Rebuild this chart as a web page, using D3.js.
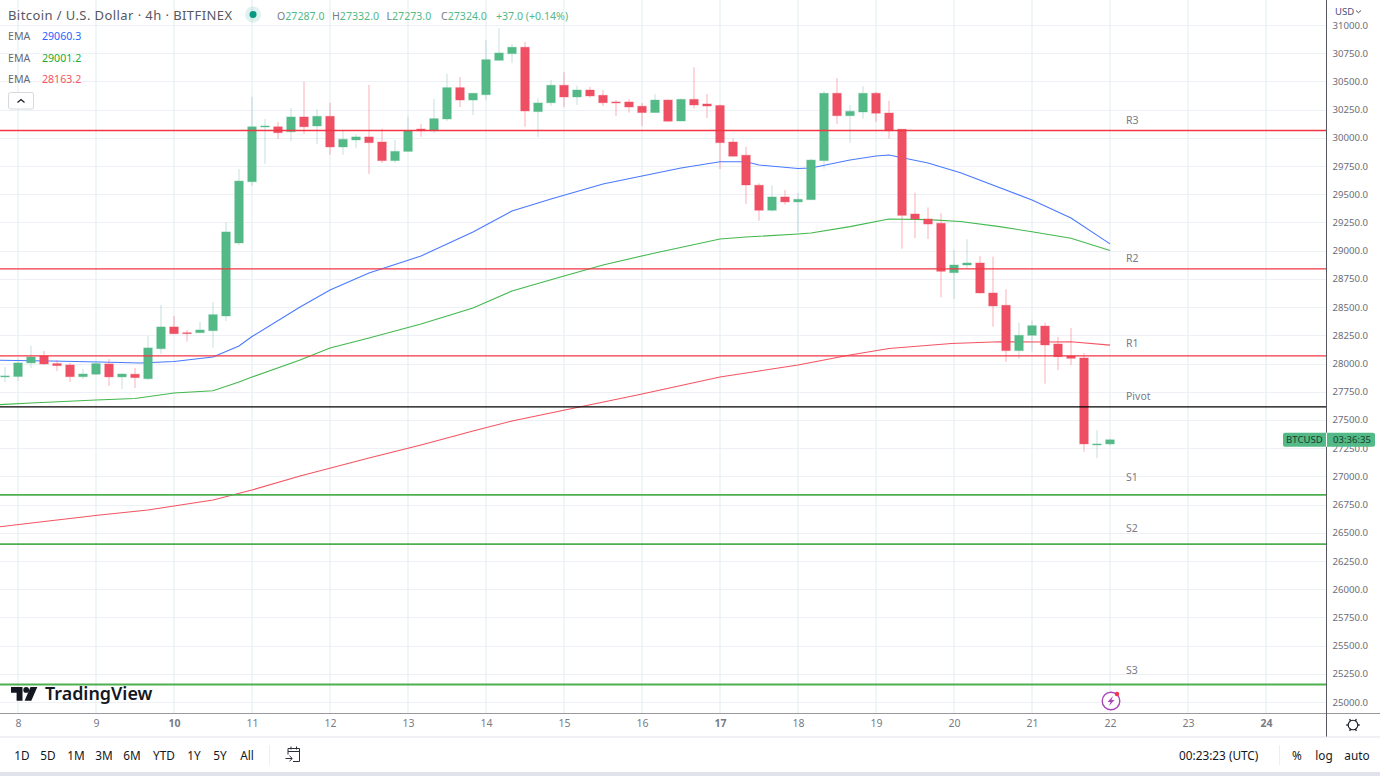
<!DOCTYPE html>
<html>
<head>
<meta charset="utf-8">
<script src="https://cdn.jsdelivr.net/npm/d3@7"></script>
<style>
  html, body { margin: 0; padding: 0; background: #fff; overflow: hidden; }
  svg { display: block; }
  text { font-family: "Noto Sans", sans-serif; }
</style>
</head>
<body>
<div id="chart"></div>
<script>
// Candles, 4h bars. Bar 0 is day 8 00:00, the first one visible is bar -1.
const FIRST_BAR = -1;
const opens = [27881,27885,28005,28067,27999,27987,27883,27905,27996,27881,27905,27865,28131,28324,28273,28273,28291,28421,29068,29611,30096,30098,30054,30185,30105,30191,29919,29981,30008,29963,29798,29880,30078,30063,30167,30445,30335,30382,30687,30746,30803,30232,30311,30466,30362,30424,30377,30318,30318,30280,30224,30335,30149,30341,30300,30287,29963,29846,29580,29358,29476,29432,29452,29798,30395,30196,30229,30395,30220,30076,29325,29281,29243,28805,28873,28891,28625,28516,28114,28250,28332,28173,28067,28049,27282,27287];
const highs = [27969,28049,28155,28111,28032,28005,27952,28023,28040,27916,27961,28244,28519,28421,28298,28368,28545,29254,29724,30364,30167,30140,30264,30497,30256,30311,30063,30034,30468,30081,29981,30187,30122,30344,30568,30539,30397,30867,30971,30832,30850,30350,30513,30581,30462,30453,30424,30335,30344,30309,30389,30341,30347,30625,30389,30295,29993,29921,29597,29580,29538,29511,29815,30413,30530,30291,30459,30406,30329,30076,29514,29383,29332,29006,29101,28953,28947,28658,28362,28380,28362,28235,28315,28091,27411,27332];
const lows = [27837,27845,27961,27987,27934,27837,27863,27899,27801,27774,27783,27854,28084,28262,28193,28270,28140,28377,29050,29573,29768,29990,29972,30034,29945,29850,29850,29910,29680,29777,29780,29878,30010,30043,30149,30273,30202,30335,30687,30665,30098,30008,30282,30273,30291,30356,30282,30194,30224,30105,30224,30145,30149,30262,30176,29724,29835,29414,29266,29345,29408,29168,29452,29727,30123,29957,30170,30140,29993,29018,29112,29103,28587,28572,28838,28619,28326,28014,28040,28108,27821,27942,27987,27218,27160,27273];
const closes = [27890,28005,28058,27996,27981,27883,27907,27999,27881,27907,27875,28138,28324,28264,28264,28297,28433,29166,29617,30098,30105,30045,30185,30098,30191,29919,29987,30008,29957,29798,29880,30063,30063,30170,30445,30335,30395,30693,30752,30803,30238,30309,30466,30362,30424,30371,30311,30311,30273,30224,30335,30147,30341,30291,30282,29957,29837,29582,29358,29476,29432,29455,29803,30395,30196,30235,30395,30218,30063,29313,29281,29236,28817,28873,28891,28625,28510,28114,28250,28335,28164,28060,28046,27287,27287,27324];

// EMAs at these bars
const blueBars = [-1.5,2.5,6.3,9.4,12,15,17,18,21.7,24,27,31,35,38,41,45,48,51,54,56,57,60,61,64,66,67,70,72.5,78,81,84];
const blueEma = [28029,28022,28013,28005,28018,28058,28155,28239,28501,28652,28802,28953,29166,29352,29458,29591,29662,29733,29788,29788,29759,29728,29733,29803,29839,29848,29777,29691,29449,29290,29060.3];
const greenBars = [-1.5,1,6,9,12,15,17,18,21.7,24,27,31,35,38,42,45,49,54,56,60,61,64,67,70,72.5,75.5,78,81,84];
const greenEma = [27635,27650,27677,27690,27739,27759,27836,27880,28031,28138,28226,28350,28492,28643,28776,28873,28980,29104,29121,29148,29157,29213,29281,29275,29259,29213,29168,29110,29001.2];
const redBars = [-1.5,2.5,6.3,10,15,18,21.7,27,31,35,38,43,48,54,60,64,67,71.8,75.5,79,81,84];
const redEma = [26551,26607,26657,26702,26790,26879,27003,27163,27278,27402,27491,27610,27730,27880,27987,28075,28133,28177,28193,28190,28193,28163.2];

// Pivot levels
const levelNames = ["R3","R2","R1","Pivot","S1","S2","S3"];
const levelPrices = [30065,28838,28067,27615,26835,26400,25155];
const levelColors = ["#f23645","#f23645","#f23645","#000000","#4caf50","#4caf50","#4caf50"];
const levelWidths = [1.6,1.2,1.2,1.2,1.8,1.8,2];
const levelLabelGaps = [10,11,13,11,18,16,15];

// Axes
const priceTicks = d3.range(25000, 31001, 250);
const dayLabels = [8,9,10,11,12,13,14,15,16,17,18,19,20,21,22,23,24];
const boldDays = [10,17,24];
const rangeButtons = ["1D","5D","1M","3M","6M","YTD","1Y","5Y","All"];
const rangeCenters = [22,48,76,104,132,164,194,220,247];

const ohlcLabels = ["O","H","L","C"];
const ohlcValues = ["27287.0","27332.0","27273.0","27324.0"];
const ohlcLeft = [277,332,386.5,441];
const emaLegend = ["29060.3","29001.2","28163.2"];
const EMA_COLORS = ["#2962ff","#22ab2f","#f23645"];
const LEGEND_COLORS = ["#2962ff","#22ab2f","#f7525f"];
const UP = "#53b987", DOWN = "#ef4f63";
const PANE = { right: 1326.5, bottom: 713.5 };
const BODY_WIDTH = 8.6;

const svg = d3.select("#chart").append("svg").attr("width", 1380).attr("height", 776);

const x = d3.scaleLinear().domain([0, 84]).range([18, 1110]);
const y = d3.scaleLinear().domain([25000, 31000]).range([702, 25]);
const dayBar = d => (d - 8) * 6;

svg.append("clipPath").attr("id", "pane").append("rect")
  .attr("width", PANE.right).attr("height", PANE.bottom);

// grid
const grid = svg.append("g").attr("clip-path", "url(#pane)");
grid.selectAll(".h").data(priceTicks).join("line")
  .attr("x1", 0).attr("x2", PANE.right)
  .attr("y1", d => Math.round(y(d)) + 0.5).attr("y2", d => Math.round(y(d)) + 0.5)
  .attr("stroke", "#edf1f5").attr("stroke-width", 1.2);
grid.selectAll(".v").data(dayLabels).join("line")
  .attr("x1", d => x(dayBar(d))).attr("x2", d => x(dayBar(d)))
  .attr("y1", 0).attr("y2", PANE.bottom)
  .attr("stroke", "#e6eef3").attr("stroke-width", 1.2);

// EMA lines go under the candles
const plot = svg.append("g").attr("clip-path", "url(#pane)");
[[blueBars, blueEma], [greenBars, greenEma], [redBars, redEma]].forEach(([bars, vals], k) => {
  const line = d3.line().x((d, i) => x(bars[i])).y(d => y(d));
  plot.append("path").datum(vals)
    .attr("d", line)
    .attr("fill", "none")
    .attr("stroke", EMA_COLORS[k])
    .attr("stroke-opacity", 0.85)
    .attr("stroke-width", 1.1);
});

// candles
const candles = plot.selectAll(".candle").data(opens).join("g");
const isUp = i => closes[i] >= opens[i];
candles.append("line")
  .attr("x1", (d, i) => x(i + FIRST_BAR)).attr("x2", (d, i) => x(i + FIRST_BAR))
  .attr("y1", (d, i) => y(highs[i])).attr("y2", (d, i) => y(lows[i]))
  .attr("stroke", (d, i) => isUp(i) ? "#7fb8b8" : DOWN)
  .attr("stroke-opacity", 0.45)
  .attr("stroke-width", 1);
candles.append("rect")
  .attr("x", (d, i) => x(i + FIRST_BAR) - BODY_WIDTH / 2)
  .attr("width", BODY_WIDTH)
  .attr("y", (d, i) => y(Math.max(opens[i], closes[i])))
  .attr("height", (d, i) => Math.max(1, Math.abs(y(opens[i]) - y(closes[i]))))
  .attr("fill", (d, i) => isUp(i) ? UP : DOWN)
  .attr("stroke", (d, i) => isUp(i) ? UP : DOWN)
  .attr("stroke-opacity", 0.35)
  .attr("stroke-width", 1);

// pivot levels sit on top of everything
const levels = svg.append("g");
levels.selectAll("line").data(levelPrices).join("line")
  .attr("x1", 0).attr("x2", PANE.right)
  .attr("y1", d => y(d)).attr("y2", d => y(d))
  .attr("stroke", (d, i) => levelColors[i])
  .attr("stroke-width", (d, i) => levelWidths[i]);
levels.selectAll("text").data(levelNames).join("text")
  .attr("x", 1126)
  .attr("y", (d, i) => y(levelPrices[i]) - levelLabelGaps[i] + 4)
  .attr("font-size", 10.5)
  .attr("fill", "#787b86")
  .text(d => d);

// price axis
const priceAxis = svg.append("g")
  .attr("transform", `translate(${PANE.right},0)`)
  .call(d3.axisRight(y).tickValues(priceTicks).tickFormat(d3.format(".1f")).tickSize(0).tickPadding(6));
priceAxis.select(".domain").remove();
priceAxis.selectAll("text")
  .attr("font-family", "Noto Sans").attr("font-size", 9.6).attr("fill", "#6a6d78");

// time axis
const timeAxis = svg.append("g")
  .attr("transform", `translate(0,${PANE.bottom})`)
  .call(d3.axisBottom(x).tickValues(dayLabels.map(dayBar)).tickFormat(b => 8 + b / 6).tickSize(0).tickPadding(6));
timeAxis.select(".domain").remove();
timeAxis.selectAll("text")
  .attr("font-family", "Noto Sans").attr("font-size", 10.5).attr("fill", "#787b86")
  .attr("font-weight", b => boldDays.includes(8 + b / 6) ? 700 : 400);

// pane borders
svg.append("rect").attr("x", 1327).attr("y", 0).attr("width", 53).attr("height", 20).attr("fill", "#fff");
svg.append("line").attr("x1", 0).attr("x2", 1380).attr("y1", PANE.bottom).attr("y2", PANE.bottom).attr("stroke", "#9a9a9e");
svg.append("line").attr("x1", PANE.right).attr("x2", PANE.right).attr("y1", 0).attr("y2", 737).attr("stroke", "#55585f");
svg.append("text").attr("x", 1335).attr("y", 15).attr("font-size", 9.5).attr("fill", "#4a4e7a").text("USD");
svg.append("path").attr("d", "M1356 10.5l2.5 2.2 2.5-2.2").attr("fill", "none").attr("stroke", "#4a4e59");

// last price tag
const tagY = y(closes[closes.length - 1]);
svg.append("rect").attr("x", 1283).attr("y", tagY - 7).attr("width", 92).attr("height", 14).attr("rx", 2).attr("fill", UP);
svg.append("line").attr("x1", PANE.right).attr("x2", PANE.right).attr("y1", tagY - 7).attr("y2", tagY + 7).attr("stroke", "#fff");
svg.append("text").attr("x", 1286).attr("y", tagY + 3.5).attr("font-size", 9.6).attr("fill", "#17402f").text("BTCUSD");
svg.append("text").attr("x", 1333).attr("y", tagY + 3.5).attr("font-size", 9.6).attr("fill", "#17402f").text("03:36:35");

// header
svg.append("text").attr("x", 8).attr("y", 19.5).attr("font-size", 13).attr("letter-spacing", 0.42).attr("fill", "#555862")
  .text("Bitcoin / U.S. Dollar · 4h · BITFINEX");
svg.append("circle").attr("cx", 253).attr("cy", 14.5).attr("r", 8).attr("fill", "#089981").attr("fill-opacity", 0.13);
svg.append("circle").attr("cx", 253).attr("cy", 14.5).attr("r", 3.5).attr("fill", "#089981");

ohlcLabels.forEach((k, i) => {
  const t = svg.append("text").attr("x", ohlcLeft[i]).attr("y", 19.5).attr("font-size", 10.6);
  t.append("tspan").attr("fill", "#787b86").text(k);
  t.append("tspan").attr("fill", UP).text(ohlcValues[i]);
});
svg.append("text").attr("x", 496).attr("y", 19.5).attr("font-size", 10.6).attr("fill", UP).text("+37.0 (+0.14%)");

emaLegend.forEach((v, i) => {
  const rowY = 40 + i * 21.6;
  svg.append("text").attr("x", 8).attr("y", rowY).attr("font-size", 10.6).attr("fill", "#666a75").text("EMA");
  svg.append("text").attr("x", 42).attr("y", rowY).attr("font-size", 10.6).attr("fill", LEGEND_COLORS[i]).text(v);
});
svg.append("rect").attr("x", 8.5).attr("y", 92.5).attr("width", 25).attr("height", 16.5).attr("rx", 2).attr("fill", "#fff").attr("stroke", "#d6d8de");
svg.append("path").attr("d", "M17.5 102.5l3.5-3 3.5 3").attr("fill", "none").attr("stroke", "#131722").attr("stroke-width", 1.2);

// logo
const logo = svg.append("g").attr("transform", "translate(11,687)").attr("fill", "#131722");
logo.append("path").attr("d", "M0 0H11.5V13.7H5.6V5.7H0Z");
logo.append("circle").attr("cx", 15.2).attr("cy", 2.9).attr("r", 2.9);
logo.append("path").attr("d", "M19.5 0H26.3L20.3 13.7H13.6Z");
svg.append("text").attr("x", 45).attr("y", 700).attr("font-family", "Inter").attr("font-size", 17.9).attr("font-weight", 600)
  .attr("fill", "#131722").text("TradingView");

// lightning badge
const badge = svg.append("g").attr("transform", "translate(1111,701)");
badge.append("circle").attr("r", 8.8).attr("fill", "#fff").attr("stroke", "#ab47bc").attr("stroke-width", 1.4);
badge.append("path").attr("d", "M2 -5L-3.5 1H-0.5L-2 5L3.5 -1H0.5Z").attr("fill", "#ab47bc");
badge.append("circle").attr("cx", 6).attr("cy", -7).attr("r", 2.2).attr("fill", "#f23645");

// gear
const gear = svg.append("g").attr("transform", "translate(1353,725)").attr("fill", "none").attr("stroke", "#131722");
gear.append("circle").attr("r", 4.8).attr("stroke-width", 1.1);
d3.range(0, 360, 60).forEach(a => {
  const r = a * Math.PI / 180;
  gear.append("line").attr("x1", 4.8 * Math.cos(r)).attr("y1", 4.8 * Math.sin(r))
    .attr("x2", 6.8 * Math.cos(r)).attr("y2", 6.8 * Math.sin(r)).attr("stroke-width", 1.3);
});

// bottom toolbar
svg.append("line").attr("x1", 0).attr("x2", 1380).attr("y1", 737).attr("y2", 737).attr("stroke", "#e0e3eb");
svg.append("rect").attr("x", 0).attr("y", 772).attr("width", 1380).attr("height", 4).attr("fill", "#e0e3eb");
svg.selectAll(".range").data(rangeButtons).join("text")
  .attr("x", (d, i) => rangeCenters[i]).attr("y", 759.5)
  .attr("text-anchor", "middle").attr("font-size", 11.8).attr("fill", "#131722")
  .text(d => d);
[269.5, 1279.5].forEach(px => {
  svg.append("line").attr("x1", px).attr("x2", px).attr("y1", 745).attr("y2", 765).attr("stroke", "#eceef2");
});
svg.append("path")
  .attr("d", "M288 754.5V748.5H299.5V761.5H293M288 751.5H299.5M291 746.5V749.5M296.5 746.5V749.5M285.5 758.5H292M289.5 755.8L292.3 758.5L289.5 761.2")
  .attr("fill", "none").attr("stroke", "#2a2e39").attr("stroke-width", 1);
svg.append("text").attr("x", 1179).attr("y", 759.5).attr("font-size", 11.8).attr("fill", "#131722").text("00:23:23 (UTC)");
[["%", 1297], ["log", 1324], ["auto", 1357]].forEach(([t, cx]) => {
  svg.append("text").attr("x", cx).attr("y", 759.5).attr("text-anchor", "middle")
    .attr("font-size", 11.8).attr("fill", "#131722").text(t);
});
</script>
</body>
</html>
